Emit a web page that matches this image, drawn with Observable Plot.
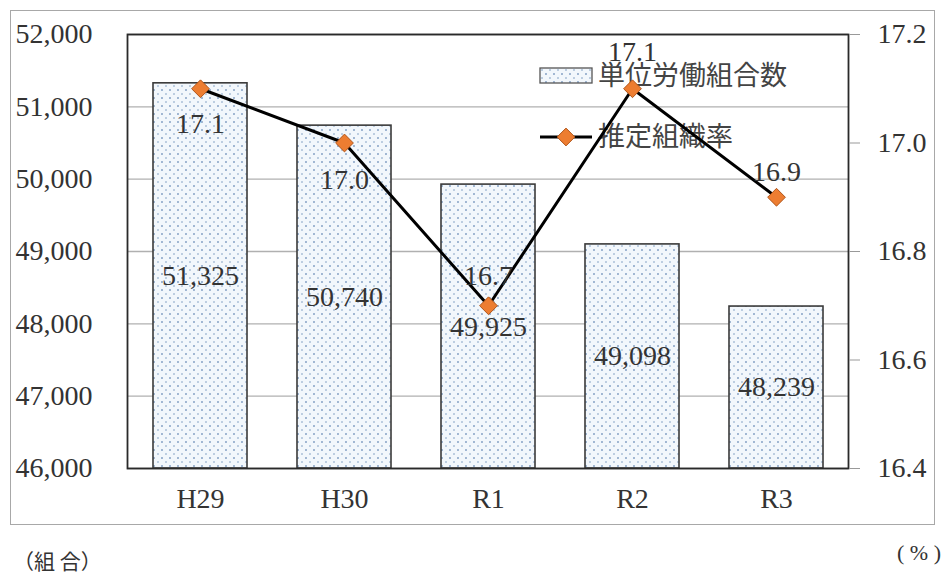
<!DOCTYPE html>
<html>
<head>
<meta charset="utf-8">
<script src="https://cdn.jsdelivr.net/npm/d3@7"></script>
<script src="https://cdn.jsdelivr.net/npm/@observablehq/plot@0.6"></script>
<style>
  html, body { margin: 0; padding: 0; background: #fff; }
  #wrap { position: relative; width: 943px; height: 581px; overflow: hidden; background: #fff; }
  #border { position: absolute; left: 10px; top: 10px; width: 923px; height: 513px; border: 1.5px solid #a8a8a8; }
  #chart { position: absolute; left: 0; top: 0; }
  #chart svg text { font-family: "Liberation Serif", serif; font-variant: normal; font-variant-numeric: normal; }
  #chart svg g.legend text { font-family: "Noto Sans CJK JP", sans-serif; }
  .note { position: absolute; color: #333; white-space: pre; }
</style>
</head>
<body>
<div id="wrap">
  <div id="border"></div>
  <div id="chart"></div>
  <div class="note" style="left:13px; top:545px; font-size:21px; font-family:'Noto Sans CJK JP', sans-serif;">（組 合）</div>
  <div class="note" style="right:2px; top:540px; font-size:22px; font-family:'Liberation Serif', serif;">( % )</div>
</div>
<script>
const categories = ["H29", "H30", "R1", "R2", "R3"];
const unionCounts = [51325, 50740, 49925, 49098, 48239];
const orgRates = [17.1, 17.0, 16.7, 17.1, 16.9];
const leftTicks = [46000, 47000, 48000, 49000, 50000, 51000, 52000];
const rightTicks = [16.4, 16.6, 16.8, 17.0, 17.2];
const seriesNames = ["単位労働組合数", "推定組織率"];

const yMin = 46000, yMax = 52000, rMin = 16.4, rMax = 17.2;
const toLeft = r => yMin + (r - rMin) / (rMax - rMin) * (yMax - yMin);
const fromLeft = v => rMin + (v - yMin) / (yMax - yMin) * (rMax - rMin);

const rows = categories.map((c, i) => ({
  cat: c,
  count: unionCounts[i],
  rate: orgRates[i],
  rateY: toLeft(orgRates[i]),
  mid: (yMin + unionCounts[i]) / 2
}));

const serif = "Liberation Serif";
const txt = { fill: "#333", fontFamily: serif, fontVariant: "normal" };
const labelDy = [35, 37, -30, -37, -25];
const rateLabels = rows.map((r, i) => Plot.text([r], {
  x: "cat", y: "rateY", text: d => d.rate.toFixed(1), dy: labelDy[i], ...txt
}));

const plot = Plot.plot({
  width: 943,
  height: 530,
  marginLeft: 127,
  marginRight: 95,
  marginTop: 34,
  marginBottom: 62,
  style: {
    fontFamily: "Liberation Serif",
    fontSize: "28px",
    color: "#333",
    background: "transparent"
  },
  x: { domain: categories, paddingInner: 0.35, paddingOuter: 0.175 },
  y: { domain: [yMin, yMax] },
  marks: [
    Plot.gridY(leftTicks, { stroke: "#b0b0b0", strokeOpacity: 1, strokeWidth: 1.3 }),
    Plot.barY(rows, { x: "cat", y1: yMin, y2: "count", fill: "url(#dots)", stroke: "#3a3a3a", strokeWidth: 1.6 }),
    Plot.frame({ stroke: "#2a2a2a", strokeWidth: 1.8 }),
    Plot.axisY(leftTicks, { anchor: "left", tickFormat: d3.format(","), tickSize: 0, tickPadding: 35, label: null, ...txt }),
    Plot.axisY(rightTicks.map(toLeft), { anchor: "right", tickFormat: d => fromLeft(d).toFixed(1), tickSize: 11, tickPadding: 18, stroke: "#999", label: null, ...txt }),
    Plot.axisX({ tickSize: 0, tickPadding: 20, label: null, ...txt }),
    Plot.text(rows, { x: "cat", y: "mid", text: d => d3.format(",")(d.count), ...txt }),
    Plot.line(rows, { x: "cat", y: "rateY", stroke: "#000", strokeWidth: 3 }),
    Plot.dot(rows, { x: "cat", y: "rateY", symbol: "diamond2", r: 8, fill: "#ed7d31", stroke: "#b0561c", strokeWidth: 1 }),
    ...rateLabels
  ]
});

document.getElementById("chart").appendChild(plot);

const svg = d3.select(plot);
const defs = svg.insert("defs", ":first-child");
const pat = defs.append("pattern").attr("id", "dots").attr("patternUnits", "userSpaceOnUse")
  .attr("width", 8).attr("height", 8);
pat.append("rect").attr("width", 8).attr("height", 8).attr("fill", "#f2f7fc");
pat.append("circle").attr("cx", 2).attr("cy", 2).attr("r", 0.95).attr("fill", "#7f9cc2");
pat.append("circle").attr("cx", 6).attr("cy", 6).attr("r", 0.95).attr("fill", "#a6bcd6");

// Legend
const lg = svg.insert("g", "g[aria-label='line']").attr("class", "legend")
  .attr("font-family", "'Noto Sans CJK JP', sans-serif").attr("font-size", 27)
  .attr("fill", "#444").attr("text-anchor", "start");
lg.append("rect").attr("x", 540).attr("y", 68).attr("width", 52).attr("height", 15)
  .attr("fill", "url(#dots)").attr("stroke", "#555").attr("stroke-width", 1.3);
lg.append("text").attr("x", 598).attr("y", 76).attr("dy", "0.35em").attr("text-anchor", "start").text(seriesNames[0]);
lg.append("line").attr("x1", 540).attr("x2", 592).attr("y1", 137).attr("y2", 137).attr("stroke", "#000").attr("stroke-width", 3);
lg.append("path").attr("d", d3.symbol(d3.symbolDiamond2, Math.PI * 64)()).attr("transform", "translate(566,137)")
  .attr("fill", "#ed7d31").attr("stroke", "#b0561c").attr("stroke-width", 1);
lg.append("text").attr("x", 598).attr("y", 137).attr("dy", "0.35em").attr("text-anchor", "start").text(seriesNames[1]);
</script>
</body>
</html>
